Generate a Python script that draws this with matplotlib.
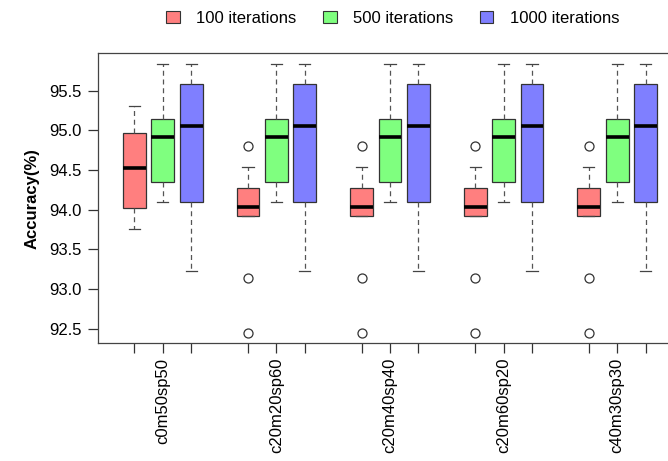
import matplotlib
matplotlib.use("Agg")
from matplotlib import pyplot as plt
from matplotlib.patches import Patch

plt.rcParams['font.family'] = ['Liberation Sans', 'DejaVu Sans']

categories = ['c0m50sp50', 'c20m20sp60', 'c20m40sp40', 'c20m60sp20', 'c40m30sp30']
series = ['100 iterations', '500 iterations', '1000 iterations']
colors = ['#ff7f7f', '#7fff7f', '#7f7fff']

# box stats, one value per category
it100_whislo = [93.76, 93.92, 93.92, 93.92, 93.92]
it100_q1 = [94.02, 93.92, 93.92, 93.92, 93.92]
it100_med = [94.53, 94.03, 94.03, 94.03, 94.03]
it100_q3 = [94.97, 94.27, 94.27, 94.27, 94.27]
it100_whishi = [95.31, 94.54, 94.54, 94.54, 94.54]
it100_fliers = [[], [94.80, 93.14, 92.45], [94.80, 93.14, 92.45],
                [94.80, 93.14, 92.45], [94.80, 93.14, 92.45]]

it500_whislo = [94.10, 94.10, 94.10, 94.10, 94.10]
it500_q1 = [94.35, 94.35, 94.35, 94.35, 94.35]
it500_med = [94.92, 94.92, 94.92, 94.92, 94.92]
it500_q3 = [95.14, 95.14, 95.14, 95.14, 95.14]
it500_whishi = [95.83, 95.83, 95.83, 95.83, 95.83]
it500_fliers = [[], [], [], [], []]

it1000_whislo = [93.23, 93.23, 93.23, 93.23, 93.23]
it1000_q1 = [94.10, 94.10, 94.10, 94.10, 94.10]
it1000_med = [95.06, 95.06, 95.06, 95.06, 95.06]
it1000_q3 = [95.58, 95.58, 95.58, 95.58, 95.58]
it1000_whishi = [95.84, 95.84, 95.84, 95.84, 95.84]
it1000_fliers = [[], [], [], [], []]

yticks = [92.5, 93.0, 93.5, 94.0, 94.5, 95.0, 95.5]

all_stats = [
    (it100_whislo, it100_q1, it100_med, it100_q3, it100_whishi, it100_fliers),
    (it500_whislo, it500_q1, it500_med, it500_q3, it500_whishi, it500_fliers),
    (it1000_whislo, it1000_q1, it1000_med, it1000_q3, it1000_whishi, it1000_fliers),
]

W, H = 668, 461
fig = plt.figure(figsize=(W / 100, H / 100), dpi=100)
ax = fig.add_axes([98 / W, 1 - 343 / H, 584 / W, (343 - 53.3) / H])

edge = '#333333'
all_pos = []
for s, (wl, q1, med, q3, wh, fl) in enumerate(all_stats):
    stats = []
    for i in range(len(categories)):
        stats.append(dict(whislo=wl[i], q1=q1[i], med=med[i], q3=q3[i],
                          whishi=wh[i], fliers=fl[i]))
    pos = [1 + 4 * g + s for g in range(len(categories))]
    all_pos += pos
    ax.bxp(stats, positions=pos, widths=0.8, patch_artist=True,
           showfliers=True, manage_ticks=False,
           boxprops=dict(facecolor=colors[s], edgecolor=edge, linewidth=0.9),
           medianprops=dict(color='black', linewidth=2.6, solid_capstyle='butt'),
           whiskerprops=dict(color='#555555', linewidth=0.9, linestyle=(0, (4, 3))),
           capprops=dict(color='#444444', linewidth=0.9),
           capwidths=0.4,
           flierprops=dict(marker='o', markersize=6.5, markerfacecolor='none',
                           markeredgecolor=edge, markeredgewidth=0.9))

ax.set_xlim(-0.282, 20.282)
ax.set_ylim(92.32, 95.97)

all_pos = sorted(all_pos)
ax.set_xticks(all_pos)
labels = []
for p in all_pos:
    if (p - 2) % 4 == 0:
        labels.append(categories[(p - 2) // 4])
    else:
        labels.append('')
ax.set_xticklabels(labels, rotation=90, fontsize=12, va='top')
ax.set_yticks(yticks)
ax.set_yticklabels(['%.1f' % v for v in yticks], fontsize=12)
ax.tick_params(axis='both', length=7.5, width=0.9, color='#333333', pad=3)
ax.tick_params(axis='y', pad=4)

for sp in ['left', 'top', 'bottom']:
    ax.spines[sp].set_color('#444444')
    ax.spines[sp].set_linewidth(0.9)
ax.spines['right'].set_visible(False)

ax.set_ylabel('Accuracy(%)', fontsize=12, fontweight='bold', labelpad=7)

handles = [Patch(facecolor=colors[i], edgecolor=edge, linewidth=0.8) for i in range(3)]
fig.legend(handles, series, loc='center', bbox_to_anchor=(393 / W, 1 - 18.5 / H),
           ncol=3, frameon=False, fontsize=12, handlelength=0.8, handleheight=0.7,
           handletextpad=1.0, columnspacing=1.6)

fig.savefig('out.png', dpi=100)
